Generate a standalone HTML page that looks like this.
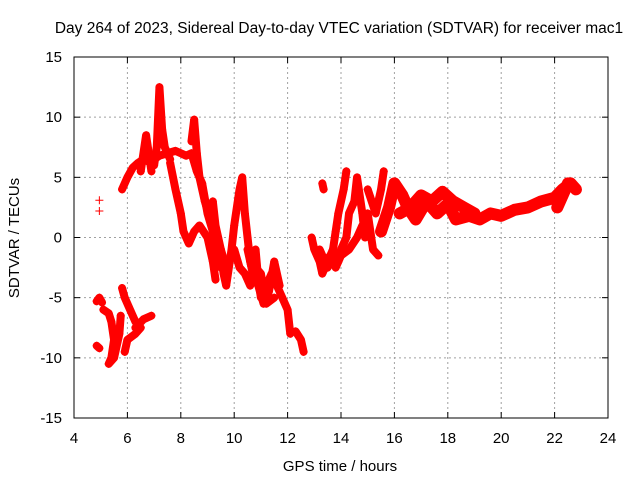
<!DOCTYPE html>
<html><head><meta charset="utf-8"><style>
body{margin:0;background:#fff;}
svg{display:block;font-family:"Liberation Sans",sans-serif;}
</style></head><body>
<svg id="chart" width="640" height="480">
<text x="339" y="33" text-anchor="middle" font-size="15.5">Day 264 of 2023, Sidereal Day-to-day VTEC variation (SDTVAR) for receiver mac1</text>
<text x="340" y="471" text-anchor="middle" font-size="15">GPS time / hours</text>
<text transform="translate(19,238) rotate(-90)" text-anchor="middle" font-size="15">SDTVAR / TECUs</text>
<g id="grid"></g><g id="marks"></g>
<rect x="74" y="57" width="534" height="361" fill="none" stroke="#000" stroke-width="1"/>
</svg>
<script>
const xTicks=[4,6,8,10,12,14,16,18,20,22,24];
const yTicks=[-15,-10,-5,0,5,10,15];
const tracks=[
[[4.85,-5.3],[4.95,-5.0],[5.05,-5.4]],
[[4.85,-9],[4.95,-9.2]],
[[4.95,3.1]],[[4.95,2.2]],
[[5.1,-6],[5.3,-6.3],[5.4,-7],[5.5,-8.5],[5.4,-10],[5.3,-10.5],[5.5,-10],[5.7,-8],[5.75,-6.5]],
[[5.8,-4.2],[5.9,-5],[6.1,-6],[6.3,-7],[6.5,-7.5],[6.3,-8],[6.0,-8.5],[5.9,-9.5]],
[[6.3,-7.5],[6.6,-6.8],[6.9,-6.5]],
[[5.8,4],[6.0,5],[6.2,5.8],[6.4,6.2],[6.6,6.5],[6.8,6.3],[7.0,6.5],[7.2,6.8],[7.5,7],[7.8,7.2],[8.0,7.0],[8.2,6.8],[8.4,7],[8.6,5.5],[8.8,4.5],[9.0,2],[9.2,0.5],[9.3,-1],[9.5,-2.5]],
[[6.5,5.5],[6.7,8.5],[6.8,7],[6.9,5.5]],
[[7.0,6],[7.1,7.5],[7.2,12.5],[7.3,9],[7.4,7.5],[7.6,6.5]],
[[7.6,6.2],[7.8,4],[8.0,2],[8.1,0.5],[8.3,-0.5],[8.5,0.5],[8.7,1],[9.0,0],[9.2,-2],[9.3,-3.5]],
[[8.4,8],[8.5,9.8],[8.6,7],[8.7,5]],
[[8.7,5],[8.9,3],[9.1,1.5],[9.3,0],[9.5,-1],[9.7,-2.5]],
[[9.2,3],[9.3,1],[9.5,-1],[9.6,-3],[9.7,-4],[9.9,-1],[10.0,1],[10.2,4],[10.3,5],[10.4,2],[10.5,0],[10.6,-2],[10.7,-3],[10.8,-1],[10.9,-3.5],[11.0,-5],[11.2,-4],[11.4,-3],[11.6,-4],[11.8,-5],[12.0,-6],[12.1,-8]],
[[10.5,-1],[10.7,-3],[10.9,-4],[11.1,-5.5],[11.3,-4.5],[11.5,-2],[11.7,-4]],
[[10.0,-1],[10.2,-2.5],[10.4,-3],[10.6,-4],[10.8,-2.5],[11.0,-3],[11.2,-5.5],[11.5,-5]],
[[12.3,-7.8],[12.5,-8.5],[12.6,-9.5]],
[[12.9,0],[13.0,-1],[13.2,-2],[13.3,-3],[13.5,-2],[13.7,-1],[13.9,-2],[14.0,-1],[14.2,0],[14.3,2],[14.5,3],[14.6,5],[14.8,2],[14.9,0],[15.0,2],[15.2,-1],[15.4,-1.5]],
[[13.5,-2.5],[13.7,-1],[13.8,0.5],[13.9,2],[14.0,3],[14.1,4],[14.2,5.5]],
[[13.2,-1],[13.4,-2],[13.6,-1.5],[13.8,-2.5],[14.0,-1.5],[14.3,-1],[14.6,0],[14.8,1]],
[[13.3,4.5],[13.35,4]],
[[15.0,4],[15.3,2],[15.5,4],[15.6,5.5]],
[[15.5,0.5],[15.8,2.5],[16.0,4.5],[16.3,3.5],[16.5,2.5],[16.8,1.5],[17.2,3],[17.6,2],[18.0,2.8],[18.3,1.5],[18.8,1.8],[19.2,1.5],[19.6,2],[20.0,1.8],[20.5,2.3],[21.0,2.5],[21.5,3],[22.0,3.3],[22.3,4],[22.6,4.5],[22.8,4]],
[[16.2,2],[16.6,2.5],[17.0,3.5],[17.4,3],[17.8,3.8],[18.2,3],[18.6,2.5],[19.0,2]],
[[22.5,4.5],[22.3,3.5],[22.1,2.5]]
];
const X0=74,X1=608,Y0=418,Y1=57;
const sx=v=>X0+(v-4)/(24-4)*(X1-X0);
const sy=v=>Y0-(v+15)/30*(Y0-Y1);
const NS="http://www.w3.org/2000/svg";
const grid=document.getElementById('grid'),marks=document.getElementById('marks');
function mk(tag,attrs,parent){const e=document.createElementNS(NS,tag);for(const k in attrs)e.setAttribute(k,attrs[k]);parent.appendChild(e);return e;}
xTicks.forEach(t=>{const x=sx(t);
 if(t>4&&t<24){const g=mk('line',{x1:x,x2:x,y1:Y1,y2:Y0,stroke:'#a0a0a0','stroke-dasharray':'2,3'},grid);
 
 }
 const l=mk('text',{x:x,y:443,'text-anchor':'middle','font-size':15},grid);l.textContent=t;
 
 
 mk('line',{x1:x,x2:x,y1:Y0,y2:Y0-6,stroke:'#000'},grid);mk('line',{x1:x,x2:x,y1:Y1,y2:Y1+6,stroke:'#000'},grid);});
yTicks.forEach(t=>{const y=sy(t);
 if(t>-15&&t<15){const g=mk('line',{x1:X0,x2:X1,y1:y,y2:y,stroke:'#a0a0a0','stroke-dasharray':'2,3'},grid);
 
 }
 const l=mk('text',{x:62,y:y+5,'text-anchor':'end','font-size':15},grid);l.textContent=t;
 
 
 mk('line',{x1:X0,x2:X0+6,y1:y,y2:y,stroke:'#000'},grid);mk('line',{x1:X1,x2:X1-6,y1:y,y2:y,stroke:'#000'},grid);});
tracks.forEach(tr=>{
 const wide=tr[0][0]>=15.4;
 if(tr.length>1){const p=mk('polyline',{points:tr.map(d=>sx(d[0])+','+sy(d[1])).join(' '),fill:'none',stroke:'#f00','stroke-width':wide?12:8,'stroke-linejoin':'round','stroke-linecap':'round'},marks);
 
 }
 tr.forEach(d=>{const x=sx(d[0]),y=sy(d[1]);
  const m=mk('path',{d:`M${x-4},${y}H${x+4}M${x},${y-4}V${y+4}`,stroke:'#f00','stroke-width':1},marks);
  
  });
});
</script>
</body></html>
